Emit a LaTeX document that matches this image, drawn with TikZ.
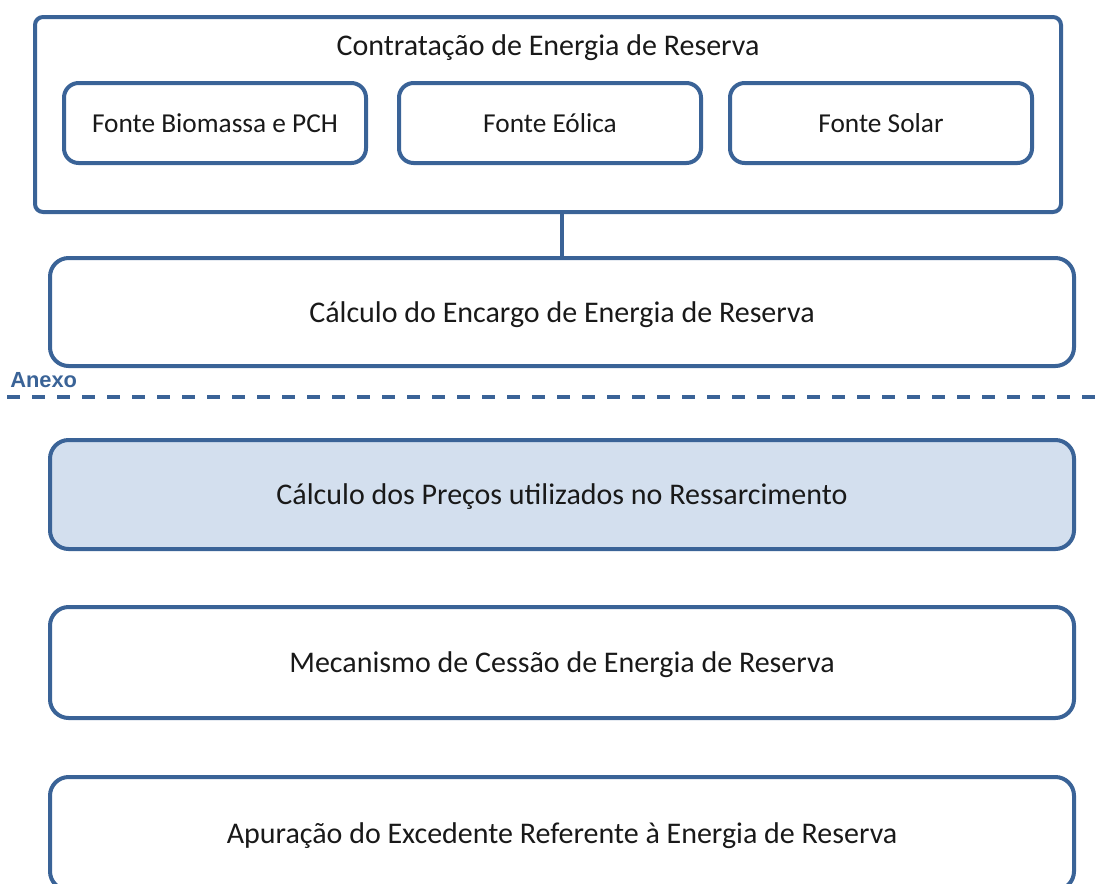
\documentclass[tikz,border=0pt]{standalone}
\usepackage{fontspec}
\setmainfont{Carlito}
\newfontfamily\anexofont{Liberation Sans}
\definecolor{edgeblue}{RGB}{58,99,151}
\definecolor{fillblue}{RGB}{211,223,238}
\begin{document}
\begin{tikzpicture}[x=0.75pt,y=-0.75pt,
  box/.style={draw=edgeblue,line width=3pt,inner sep=0pt,text height=17.5pt,text depth=2pt,font=\fontsize{22.5}{26}\selectfont,text=black!90},
  outerbox/.style={box,rounded corners=6pt,minimum width=1026*0.75pt,minimum height=195*0.75pt},
  srcbox/.style={box,rounded corners=11pt,minimum width=302*0.75pt,minimum height=80*0.75pt,font=\fontsize{20.5}{24}\selectfont,text height=16.5pt,text depth=2.2pt},
  stepbox/.style={box,rounded corners=14pt,minimum width=1024*0.75pt},
  lbl/.style={font=\fontsize{22.5}{26}\selectfont,text=black!90,inner sep=0pt,text height=17.5pt,text depth=2pt}]
\useasboundingbox (0,0) rectangle (1107,883);
\clip (0,0) rectangle (1107,883);
\node[outerbox] (top) at (548,114.5) {};
\node[lbl] (title) at (548,45) {Contratação de Energia de Reserva};
\node[srcbox] (bio) at (215,123) {Fonte Biomassa e PCH};
\node[srcbox] (eol) at (550,123) {Fonte Eólica};
\node[srcbox] (sol) at (881,123) {Fonte Solar};
\node[stepbox,minimum height=108*0.75pt] (enc) at (562,312) {Cálculo do Encargo de Energia de Reserva};
\draw[edgeblue,line width=3pt] (enc.north) -- (enc.north |- top.south);
\node[anchor=base west,inner sep=0pt,text=edgeblue,font=\anexofont\bfseries\fontsize{16.4}{19}\selectfont] (anexo) at (10,387) {Anexo};
\coordinate (dl) at (7,397);
\coordinate (dr) at (1107,397);
\draw[edgeblue,line width=2.3pt,dash pattern=on 10pt off 8.75pt] (dl) -- (dr);
\node[stepbox,fill=fillblue,minimum height=109*0.75pt] (prec) at (562,494.5) {Cálculo dos Preços utilizados no Ressarcimento};
\node[stepbox,minimum height=111*0.75pt] (mec) at (562,662.5) {Mecanismo de Cessão de Energia de Reserva};
\node[stepbox,minimum height=113*0.75pt] (apu) at (562,833.5) {Apuração do Excedente Referente à Energia de Reserva};
\end{tikzpicture}
\end{document}
